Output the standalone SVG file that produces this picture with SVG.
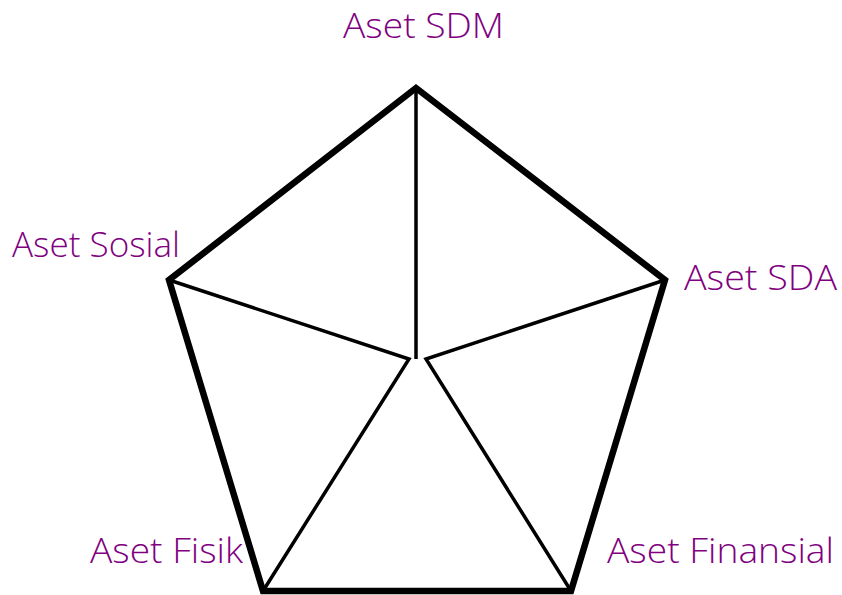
<svg xmlns="http://www.w3.org/2000/svg" width="842" height="595" viewBox="0 0 842 595">
<style>
.lbl{font-family:"Open Sans","Noto Sans",sans-serif;font-weight:300;font-size:35px;fill:#800080}
.outer{fill:none;stroke:#000;stroke-width:6.5;stroke-linejoin:miter}
.spoke{fill:none;stroke:#000;stroke-width:3.5;stroke-linejoin:miter}
</style>
<rect width="842" height="595" fill="#fff"/>
<g id="pentagon">
<polygon class="outer" points="416,88 665,280 571,591 263,591 169,280"/>
</g>
<g id="connectors">
<line class="spoke" x1="416" y1="88" x2="416" y2="359"/>
<polyline class="spoke" points="169,280 409,359 263,591"/>
<polyline class="spoke" points="665,280 426,359 571,591"/>
</g>
<g id="node-sdm"><text class="lbl" x="343" y="38" textLength="161" lengthAdjust="spacingAndGlyphs">Aset SDM</text></g>
<g id="node-sosial"><text class="lbl" x="12" y="257" textLength="168" lengthAdjust="spacingAndGlyphs">Aset Sosial</text></g>
<g id="node-sda"><text class="lbl" x="684" y="290" textLength="153" lengthAdjust="spacingAndGlyphs">Aset SDA</text></g>
<g id="node-fisik"><text class="lbl" x="90" y="563" textLength="153" lengthAdjust="spacingAndGlyphs">Aset Fisik</text></g>
<g id="node-finansial"><text class="lbl" x="607" y="563" textLength="227" lengthAdjust="spacingAndGlyphs">Aset Finansial</text></g>
</svg>
